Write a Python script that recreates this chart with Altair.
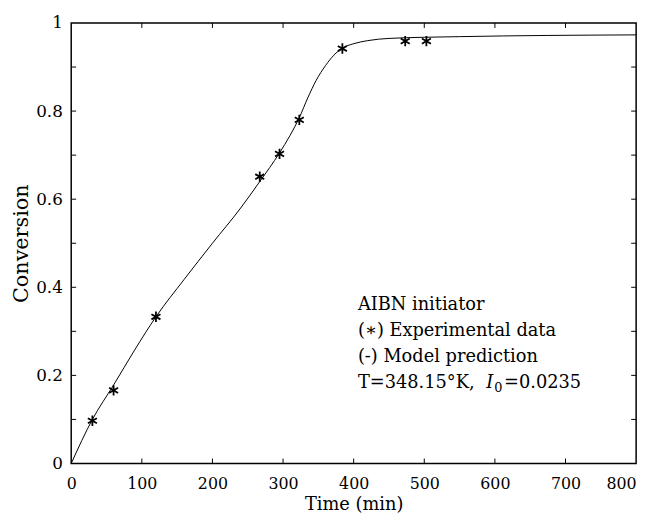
import altair as alt
import pandas as pd

# Experimental data (asterisks)
exp_time = [30, 60, 120, 267, 295, 323, 384, 473, 503]
exp_conv = [0.097, 0.166, 0.333, 0.651, 0.703, 0.780, 0.942, 0.959, 0.959]

# Model prediction curve
mod_time = [0, 30, 60, 90, 120, 160, 200, 240, 267, 295, 310, 323, 335, 347, 360, 372, 384, 400, 420, 450, 550, 800]
mod_conv = [0, 0.100, 0.178, 0.258, 0.333, 0.418, 0.500, 0.580, 0.640, 0.705, 0.745, 0.785, 0.830, 0.870, 0.903, 0.927, 0.943, 0.953, 0.960, 0.965, 0.969, 0.973]

x_ticks = [0, 100, 200, 300, 400, 500, 600, 700, 800]
y_ticks = [0, 0.2, 0.4, 0.6, 0.8, 1]
x_minor = [100, 200, 300, 400, 500, 600, 700]
y_minor = [0.1, 0.2, 0.3, 0.4, 0.5, 0.6, 0.7, 0.8, 0.9]

legend_lines = ["AIBN initiator", "(\u2217) Experimental data", "(-) Model prediction"]
legend_x = [406, 406, 406]
legend_y = [0.360, 0.301, 0.242]

# last legend line, split into pieces: "T=348.15°K, " + italic I + subscript 0 + "=0.0235"
tline_parts = ["T=348.15\u00b0K,", "I", "0", "=0.0235"]
tline_x = [406, 406, 406, 406]
tline_y = [0.183, 0.183, 0.183, 0.183]

W, H = 572, 446
FONT = "DejaVu Serif"

exp_df = pd.DataFrame({"t": exp_time, "c": exp_conv})
mod_df = pd.DataFrame({"t": mod_time, "c": mod_conv})
xt_df = pd.DataFrame({"t": x_minor})
yt_df = pd.DataFrame({"c": y_minor})
leg_df = pd.DataFrame({"t": legend_x, "c": legend_y, "label": legend_lines})
tl_df = pd.DataFrame({"t": tline_x, "c": tline_y, "label": tline_parts})

xs = alt.Scale(domain=[0, 800], nice=False)
ys = alt.Scale(domain=[0, 1], nice=False)

xaxis = alt.Axis(values=x_ticks, title="Time (min)", grid=False, ticks=False, domain=False,
                 labelFont=FONT, labelFontSize=16, labelColor="black", labelPadding=12,
                 labelAlign={"condition": {"test": "datum.value == 800", "value": "right"}, "value": "center"},
                 titleFont=FONT, titleFontSize=18, titleFontWeight="normal", titleColor="black",
                 titlePadding=5, labelFlush=False)
yaxis = alt.Axis(values=y_ticks, title="Conversion", grid=False, ticks=False, domain=False,
                 labelFont=FONT, labelFontSize=17, labelColor="black", labelPadding=9,
                 labelExpr="datum.value == 0 ? '0' : (datum.value == 1 ? '1' : format(datum.value, '.1f'))",
                 titleFont=FONT, titleFontSize=21, titleFontWeight="normal", titleColor="black",
                 titlePadding=4, labelFlush=False)

line = alt.Chart(mod_df).mark_line(color="black", strokeWidth=1, interpolate="monotone").encode(
    x=alt.X("t:Q", scale=xs, axis=xaxis),
    y=alt.Y("c:Q", scale=ys, axis=yaxis),
)

asterisk = "M0,-1L0,1M-0.87,-0.5L0.87,0.5M-0.87,0.5L0.87,-0.5"
pts = alt.Chart(exp_df).mark_point(shape=asterisk, size=110, stroke="black", strokeWidth=1.8, filled=False, opacity=1).encode(
    x=alt.X("t:Q", scale=xs),
    y=alt.Y("c:Q", scale=ys),
)

tick_b = alt.Chart(xt_df).mark_rule(color="black", strokeWidth=1).encode(
    x=alt.X("t:Q", scale=xs), y=alt.value(H), y2=alt.value(H - 5))
tick_t = alt.Chart(xt_df).mark_rule(color="black", strokeWidth=1).encode(
    x=alt.X("t:Q", scale=xs), y=alt.value(0), y2=alt.value(5))
tick_l = alt.Chart(yt_df).mark_rule(color="black", strokeWidth=1).encode(
    y=alt.Y("c:Q", scale=ys), x=alt.value(0), x2=alt.value(5))
tick_r = alt.Chart(yt_df).mark_rule(color="black", strokeWidth=1).encode(
    y=alt.Y("c:Q", scale=ys), x=alt.value(W), x2=alt.value(W - 5))

LS = 18
legend = alt.Chart(leg_df).mark_text(align="left", baseline="middle", font=FONT, fontSize=LS, color="black").encode(
    x=alt.X("t:Q", scale=xs), y=alt.Y("c:Q", scale=ys), text="label:N")

tl_base = alt.Chart(tl_df)
t_a = tl_base.transform_filter(alt.datum.label == tline_parts[0]).mark_text(
    align="left", baseline="middle", font=FONT, fontSize=LS, color="black").encode(
    x=alt.X("t:Q", scale=xs), y=alt.Y("c:Q", scale=ys), text="label:N")
t_b = tl_base.transform_filter(alt.datum.label == tline_parts[1]).mark_text(
    align="left", baseline="middle", font=FONT, fontSize=LS, fontStyle="italic", color="black", dx=130).encode(
    x=alt.X("t:Q", scale=xs), y=alt.Y("c:Q", scale=ys), text="label:N")
t_c = tl_base.transform_filter(alt.datum.label == tline_parts[2]).mark_text(
    align="left", baseline="middle", font=FONT, fontSize=13, color="black", dx=138, dy=5).encode(
    x=alt.X("t:Q", scale=xs), y=alt.Y("c:Q", scale=ys), text="label:N")
t_d = tl_base.transform_filter(alt.datum.label == tline_parts[3]).mark_text(
    align="left", baseline="middle", font=FONT, fontSize=LS, color="black", dx=148).encode(
    x=alt.X("t:Q", scale=xs), y=alt.Y("c:Q", scale=ys), text="label:N")

chart = alt.layer(line, pts, tick_b, tick_t, tick_l, tick_r, legend, t_a, t_b, t_c, t_d).properties(
    width=W, height=H,
    autosize=alt.AutoSizeParams(type="none"),
    padding={"left": 64, "top": 12, "right": 10, "bottom": 50},
    background="white",
).configure_view(stroke="black", strokeWidth=1.5)

chart.save("out.html", embed_options={"renderer": "svg", "actions": False})
